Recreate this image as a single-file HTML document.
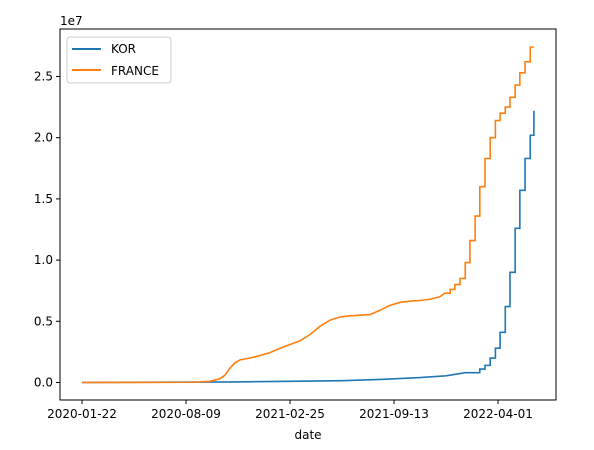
<!DOCTYPE html>
<html><head><meta charset="utf-8"><style>
body{margin:0;background:#fff;}
svg text{font-family:"DejaVu Sans","Liberation Sans",sans-serif;font-size:12px;fill:#000;}
</style></head><body>
<svg id="chart" width="594" height="445" xmlns="http://www.w3.org/2000/svg">
<rect x="60" y="29" width="496" height="371" fill="none" stroke="#000" stroke-width="1"/>
<g id="axes"></g>
<g id="series"></g>
<text x="60" y="25">1e7</text>
<text x="308" y="439" text-anchor="middle">date</text>
<g>
<rect x="67" y="37" width="104" height="46" rx="3" fill="#fff" stroke="#ccc"/>
<line x1="72" y1="49" x2="101" y2="49" stroke="#1f77b4" stroke-width="2"/>
<text x="111" y="53">KOR</text>
<line x1="72" y1="70" x2="101" y2="70" stroke="#ff7f0e" stroke-width="2"/>
<text x="111" y="75">FRANCE</text>
</g>
</svg>
<script>
const xTickDays=[0,200,400,600,800];
const xTickLabels=["2020-01-22","2020-08-09","2021-02-25","2021-09-13","2022-04-01"];
const yTicks=[0,0.5,1.0,1.5,2.0,2.5];
const franceDays=[0,208,227,246,265,275,285,294,304,323,342,362,381,400,419,438,458,477,496,515,535,554,573,592,612,631,650,669,688,698,708,717,727,737,746,756,765,775,785,795,804,814,823,833,842,852,862,869];
const franceVals=[0,0.02,0.05,0.1,0.3,0.6,1.2,1.6,1.85,2.0,2.2,2.45,2.8,3.1,3.4,3.9,4.6,5.1,5.35,5.45,5.5,5.55,5.9,6.3,6.55,6.65,6.7,6.8,7.0,7.3,7.6,8.0,8.5,9.8,11.6,13.6,16.0,18.3,20.0,21.4,22.0,22.5,23.3,24.3,25.3,26.2,27.4,27.4];
const korDays=[0,300,400,500,573,650,700,737,765,775,785,795,804,814,823,833,842,852,862,869];
const korVals=[0,0.05,0.1,0.15,0.25,0.4,0.55,0.8,1.1,1.4,2.0,2.8,4.1,6.2,9.0,12.6,15.7,18.3,20.2,22.2];
const NS="http://www.w3.org/2000/svg";
function xS(d){return 82+0.52*d;}
function yS(v){return 382.5-v*12.24;}
const ax=document.getElementById('axes');
xTickDays.forEach((d,i)=>{
 const l=document.createElementNS(NS,'line');
 l.setAttribute('x1',xS(d));l.setAttribute('x2',xS(d));l.setAttribute('y1',400);l.setAttribute('y2',404);l.setAttribute('stroke','#000');
 
 
 ax.appendChild(l);
 const t=document.createElementNS(NS,'text');
 t.setAttribute('x',xS(d));t.setAttribute('y',418);t.setAttribute('text-anchor','middle');t.textContent=xTickLabels[i];
 
 
 ax.appendChild(t);
});
yTicks.forEach(v=>{
 const l=document.createElementNS(NS,'line');
 l.setAttribute('x1',56);l.setAttribute('x2',60);l.setAttribute('y1',yS(v*10));l.setAttribute('y2',yS(v*10));l.setAttribute('stroke','#000');
 
 
 ax.appendChild(l);
 const t=document.createElementNS(NS,'text');
 t.setAttribute('x',53);t.setAttribute('y',yS(v*10)+4);t.setAttribute('text-anchor','end');t.textContent=v.toFixed(1);
 
 
 ax.appendChild(t);
});
// smooth (linear) before stepStart day, weekly steps after
function mixPath(days,vals,stepStart){
 let d='M'+xS(days[0])+','+yS(vals[0]);
 for(let i=1;i<days.length;i++){
  if(days[i]<=stepStart){d+=' L'+xS(days[i])+','+yS(vals[i]);}
  else{d+=' H'+xS(days[i])+' V'+yS(vals[i]);}
 }
 return d;
}
const sg=document.getElementById('series');
const pk=document.createElementNS(NS,'path');
pk.setAttribute('d',mixPath(korDays,korVals,737));pk.setAttribute('fill','none');pk.setAttribute('stroke','#1f77b4');pk.setAttribute('stroke-width','1.6');


sg.appendChild(pk);
const pf=document.createElementNS(NS,'path');
pf.setAttribute('d',mixPath(franceDays,franceVals,698));pf.setAttribute('fill','none');pf.setAttribute('stroke','#ff7f0e');pf.setAttribute('stroke-width','1.6');


sg.appendChild(pf);
</script>
</body></html>
